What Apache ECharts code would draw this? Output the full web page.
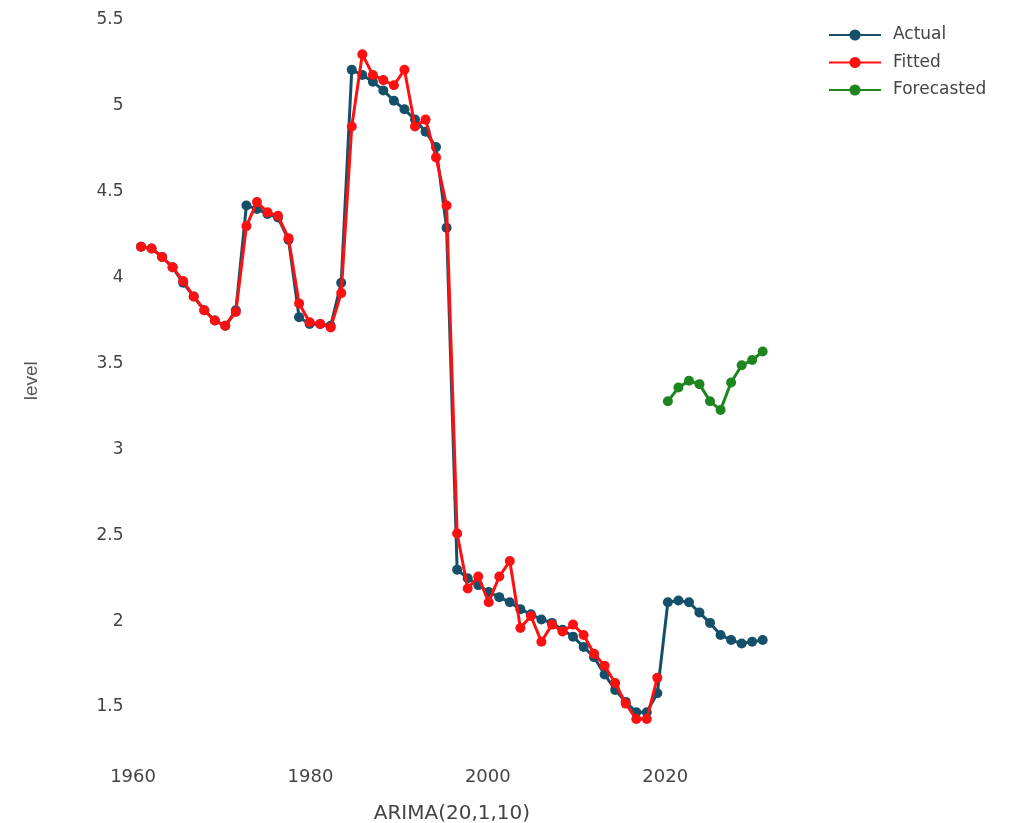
<!DOCTYPE html>
<html>
<head>
<meta charset="utf-8">
<script src="https://cdn.jsdelivr.net/npm/echarts@6/dist/echarts.min.js"></script>
<style>html,body{margin:0;padding:0;background:#fff;}#c{width:1009px;height:823px;}</style>
</head>
<body>
<div id="c"></div>
<script>
const xTimes = [1960.9,1962.09,1963.28,1964.46,1965.65,1966.84,1968.03,1969.22,1970.4,1971.59,
  1972.78,1973.97,1975.16,1976.34,1977.53,1978.72,1979.91,1981.1,1982.28,1983.47,
  1984.66,1985.85,1987.04,1988.22,1989.41,1990.6,1991.79,1992.98,1994.16,1995.35,
  1996.54,1997.73,1998.92,2000.1,2001.29,2002.48,2003.67,2004.86,2006.04,2007.23,
  2008.42,2009.61,2010.8,2011.98,2013.17,2014.36,2015.55,2016.74,2017.92,2019.11,
  2020.3,2021.49,2022.68,2023.86,2025.05,2026.24,2027.43,2028.62,2029.8,2030.99];
const actual = [4.18,4.17,4.12,4.06,3.97,3.89,3.81,3.75,3.72,3.81,
  4.42,4.40,4.37,4.35,4.22,3.77,3.73,3.73,3.72,3.97,
  5.21,5.18,5.14,5.09,5.03,4.98,4.92,4.85,4.76,4.29,
  2.30,2.25,2.21,2.17,2.14,2.11,2.07,2.04,2.01,1.99,
  1.95,1.91,1.85,1.79,1.69,1.60,1.53,1.47,1.47,1.58,
  2.11,2.12,2.11,2.05,1.99,1.92,1.89,1.87,1.88,1.89];
const fitted = [4.18,4.17,4.12,4.06,3.98,3.89,3.81,3.75,3.72,3.80,
  4.30,4.44,4.38,4.36,4.23,3.85,3.74,3.73,3.71,3.91,
  4.88,5.30,5.18,5.15,5.12,5.21,4.88,4.92,4.70,4.42,
  2.51,2.19,2.26,2.11,2.26,2.35,1.96,2.03,1.88,1.98,
  1.94,1.98,1.92,1.81,1.74,1.64,1.52,1.43,1.43,1.67];
const forecasted = [3.28,3.36,3.40,3.38,3.28,3.23,3.39,3.49,3.52,3.57];
const forecastStart = 50;
const xTickLabels = [1960,1980,2000,2020];
const yTickLabels = [1.5,2,2.5,3,3.5,4,4.5,5,5.5];

const pair = (vals, offset) => vals.map((v, i) => [xTimes[i + offset], v]);

const chart = echarts.init(document.getElementById('c'));
const font = 'DejaVu Sans';
chart.setOption({
  backgroundColor: '#fff',
  animation: false,
  grid: {left: 129.5, right: 234.7, top: 11.4, bottom: 73, containLabel: false, outerBoundsMode: 'none'},
  legend: {
    orient: 'vertical', left: 823, top: 20,
    itemWidth: 52, itemHeight: 14, itemGap: 7.5,
    textStyle: {fontFamily: font, fontSize: 17, color: '#444', lineHeight: 20, padding: [0,0,0,7]},
    data: ['Actual','Fitted','Forecasted']
  },
  xAxis: {
    type: 'value', min: 1959.6, max: 2032.3,
    name: 'ARIMA(20,1,10)', nameLocation: 'middle', nameGap: 54,
    nameTextStyle: {fontFamily: font, fontSize: 20, color: '#444'},
    axisLine: {show: false}, axisTick: {show: false}, splitLine: {show: false},
    axisLabel: {customValues: xTickLabels, formatter: v => String(v),
      fontFamily: font, fontSize: 18, color: '#444', margin: 18}
  },
  yAxis: {
    type: 'value', min: 1.25, max: 5.55,
    name: 'level', nameLocation: 'middle', nameGap: 88, nameRotate: 90,
    nameTextStyle: {fontFamily: 'Liberation Sans Narrow, Liberation Sans', fontSize: 19, color: '#555'},
    axisLine: {show: false}, axisTick: {show: false}, splitLine: {show: false},
    axisLabel: {customValues: yTickLabels, formatter: v => String(v),
      fontFamily: font, fontSize: 17, color: '#444', margin: 6}
  },
  series: [
    {name: 'Actual', type: 'line', data: pair(actual, 0), symbol: 'circle', symbolSize: 10,
     lineStyle: {width: 3, color: '#15506b'}, itemStyle: {color: '#15506b'}, z: 2},
    {name: 'Fitted', type: 'line', data: pair(fitted, 0), symbol: 'circle', symbolSize: 10,
     lineStyle: {width: 3, color: '#ff1010'}, itemStyle: {color: '#ff1010'}, z: 3},
    {name: 'Forecasted', type: 'line', data: pair(forecasted, forecastStart), symbol: 'circle', symbolSize: 10,
     lineStyle: {width: 3, color: '#1f861f'}, itemStyle: {color: '#1f861f'}, z: 4}
  ]
});
</script>
</body>
</html>
